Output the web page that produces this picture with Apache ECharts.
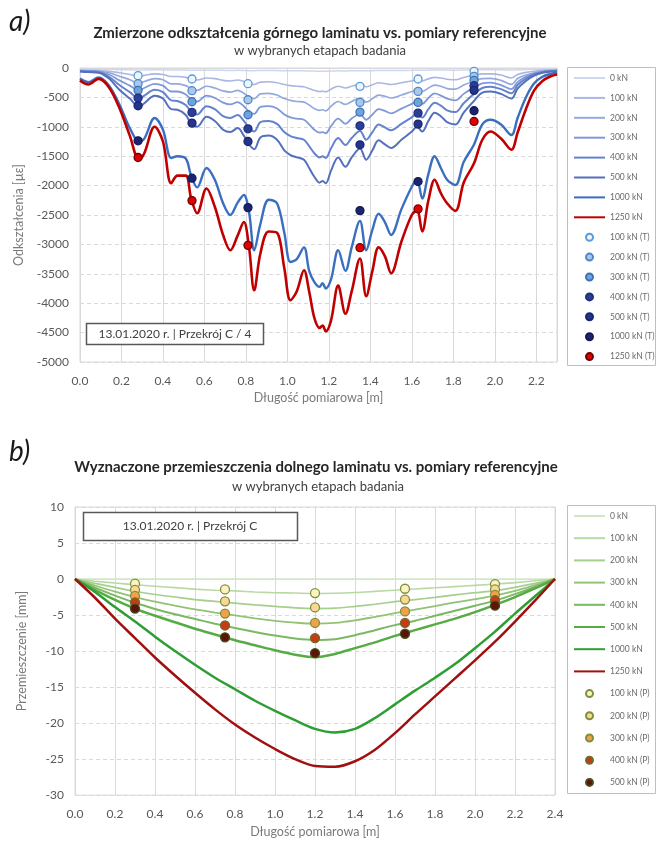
<!DOCTYPE html>
<html>
<head>
<meta charset="utf-8">
<script src="https://cdn.jsdelivr.net/npm/echarts@6/dist/echarts.min.js"></script>
<style>
  html, body { margin: 0; padding: 0; background: #ffffff; }
  #chartA { width: 657px; height: 430px; }
  #chartB { width: 657px; height: 413px; }
</style>
</head>
<body>
<div id="chartA"></div>
<div id="chartB"></div>
<script>
// ---------- a) strains of the upper laminate ----------
const strainX = [
  0.00, 0.04, 0.09, 0.14, 0.19, 0.24, 0.285, 0.31, 0.36, 0.40, 0.44,
  0.47, 0.51, 0.535, 0.565, 0.61, 0.65, 0.69, 0.725, 0.76, 0.79, 0.815,
  0.84, 0.87, 0.91, 0.95, 0.985, 1.015, 1.045, 1.08, 1.105, 1.13, 1.155,
  1.17, 1.185, 1.21, 1.245, 1.28, 1.31, 1.35, 1.38, 1.41, 1.44, 1.47,
  1.50, 1.55, 1.60, 1.625, 1.65, 1.68, 1.71, 1.74, 1.77, 1.81, 1.85,
  1.90, 1.94, 1.98, 2.03, 2.08, 2.11, 2.15, 2.19, 2.23, 2.27, 2.30
];
const strain0 = [
  -20, -22, -25, -25, -28, -30, -35, -32, -30, -30, -35,
  -35, -35, -40, -40, -38, -38, -40, -42, -40, -42, -45,
  -45, -42, -42, -44, -46, -48, -48, -48, -50, -52, -55,
  -54, -55, -52, -48, -50, -48, -45, -48, -45, -42, -43,
  -44, -42, -40, -38, -40, -36, -34, -35, -36, -37, -34,
  -30, -28, -28, -30, -35, -30, -26, -24, -22, -20, -20
];
const strain100 = [
  -40, -42, -45, -55, -80, -110, -140, -125, -100, -110, -145,
  -145, -160, -190, -205, -170, -180, -210, -220, -205, -230, -265,
  -280, -240, -235, -250, -280, -300, -310, -320, -350, -380, -400,
  -395, -405, -360, -310, -340, -310, -280, -320, -285, -250, -265,
  -280, -250, -220, -205, -220, -185, -160, -170, -190, -200, -160,
  -120, -100, -100, -120, -170, -110, -75, -55, -40, -35, -30
];
const strain200 = [
  -45, -50, -55, -80, -140, -200, -260, -230, -180, -200, -270,
  -270, -300, -350, -380, -310, -340, -390, -410, -380, -430, -490,
  -520, -440, -430, -460, -520, -550, -570, -580, -630, -690, -720,
  -710, -730, -650, -570, -620, -570, -510, -580, -520, -460, -480,
  -510, -460, -400, -380, -400, -340, -290, -310, -350, -360, -290,
  -220, -180, -175, -210, -280, -180, -120, -80, -55, -45, -40
];
const strain300 = [
  -50, -55, -60, -110, -210, -300, -380, -340, -270, -300, -400,
  -400, -450, -530, -570, -470, -510, -590, -620, -580, -650, -740,
  -780, -660, -650, -690, -790, -840, -860, -880, -960, -1050, -1100,
  -1090, -1110, -990, -860, -950, -860, -780, -880, -790, -700, -730,
  -770, -690, -610, -570, -610, -510, -430, -470, -520, -550, -440,
  -330, -260, -250, -290, -360, -240, -150, -95, -65, -50, -45
];
const strain400 = [
  -55, -60, -70, -150, -290, -410, -520, -470, -370, -410, -550,
  -560, -630, -740, -790, -650, -700, -820, -850, -800, -900, -1020,
  -1080, -920, -900, -950, -1090, -1160, -1190, -1220, -1330, -1450, -1520,
  -1500, -1530, -1370, -1190, -1310, -1190, -1070, -1220, -1090, -960, -1010,
  -1060, -950, -840, -780, -840, -700, -590, -640, -720, -750, -600,
  -440, -340, -320, -360, -430, -290, -180, -110, -70, -55, -50
];
const strain500 = [
  -60, -70, -80, -180, -370, -520, -660, -600, -470, -520, -700,
  -710, -800, -940, -1000, -830, -900, -1050, -1090, -1020, -1150, -1300,
  -1380, -1180, -1150, -1220, -1400, -1480, -1520, -1560, -1700, -1850, -1950,
  -1920, -1960, -1750, -1520, -1680, -1520, -1370, -1560, -1400, -1230, -1300,
  -1360, -1220, -1080, -1000, -1080, -900, -760, -820, -920, -960, -760,
  -560, -420, -400, -440, -520, -350, -220, -130, -80, -60, -55
];
const strain1000 = [
  -180, -240, -160, -300, -620, -1020, -1250, -1200, -850, -1050, -1530,
  -1500, -1540, -1820, -2030, -1700, -1900, -2300, -2500, -2290, -2160, -2450,
  -3100, -2650, -2240, -2300, -2800, -3300, -3250, -3050, -3450, -3640, -3720,
  -3660, -3750, -3600, -3100, -3450, -3050, -2600, -3100, -2750, -2480, -2620,
  -2840, -2400, -2020, -1900, -2220, -1800, -1500, -1700, -1900, -1990, -1600,
  -1300, -960, -880, -960, -1140, -850, -500, -260, -150, -100, -80
];
const strain1250 = [
  -210, -280, -185, -330, -680, -1150, -1560, -1450, -1000, -1250, -1960,
  -1830, -1830, -2200, -2470, -2050, -2360, -2840, -3100, -2850, -2620, -3050,
  -3780, -3150, -2780, -2800, -3400, -3950, -3800, -3440, -3800, -4250, -4420,
  -4380, -4480, -4300, -3700, -4180, -3800, -3240, -3880, -3450, -3050, -3200,
  -3490, -2950, -2500, -2420, -2780, -2250, -1900, -2130, -2300, -2430, -1950,
  -1620, -1220, -1080, -1200, -1390, -1100, -700, -380, -220, -140, -110
];

// reference strain gauges (T)
const gaugeX = [0.28, 0.54, 0.81, 1.35, 1.63, 1.90];
const gauge100 = [-130, -187, -267, -312, -187, -57];
const gauge200 = [-267, -386, -540, -585, -398, -142];
const gauge300 = [-380, -574, -795, -750, -585, -210];
const gauge400 = [-511, -755, -1034, -983, -767, -301];
const gauge500 = [-642, -937, -1250, -1306, -954, -380];
const gauge1000 = [-1238, -1874, -2374, -2425, -1931, -727];
const gauge1250 = [-1522, -2255, -3016, -3056, -2397, -909];

// ---------- b) displacements of the lower laminate ----------
const dispX = [0.0, 0.1, 0.2, 0.3, 0.4, 0.5, 0.6, 0.7, 0.8, 0.9, 1.0, 1.1, 1.2,
               1.3, 1.4, 1.5, 1.6, 1.7, 1.8, 1.9, 2.0, 2.1, 2.2, 2.3, 2.4];
const disp0 = [0, 0, 0, 0, 0, 0, 0, 0, 0, 0, 0, 0, 0, 0, 0, 0, 0, 0, 0, 0, 0, 0, 0, 0, 0];
const disp100 = [0, -0.3, -0.55, -0.8, -1.0, -1.2, -1.4, -1.55, -1.65, -1.8, -1.9, -1.95, -2.0,
                 -1.98, -1.88, -1.72, -1.55, -1.38, -1.22, -1.05, -0.88, -0.7, -0.5, -0.25, 0];
const disp200 = [0, -0.6, -1.15, -1.7, -2.15, -2.5, -2.85, -3.1, -3.35, -3.6, -3.8, -4.0, -4.1,
                 -4.05, -3.8, -3.5, -3.15, -2.85, -2.55, -2.2, -1.9, -1.6, -1.15, -0.6, 0];
const disp300 = [0, -0.9, -1.75, -2.5, -3.15, -3.7, -4.2, -4.65, -5.05, -5.45, -5.8, -6.05, -6.2,
                 -6.1, -5.75, -5.25, -4.75, -4.25, -3.75, -3.25, -2.8, -2.3, -1.65, -0.85, 0];
const disp400 = [0, -1.2, -2.3, -3.3, -4.15, -4.9, -5.55, -6.2, -6.8, -7.35, -7.85, -8.25, -8.45,
                 -8.35, -7.8, -7.1, -6.4, -5.8, -5.1, -4.4, -3.7, -3.0, -2.1, -1.1, 0];
const disp500 = [0, -1.5, -2.9, -4.1, -5.1, -6.0, -6.9, -7.7, -8.5, -9.2, -9.9, -10.5, -10.85,
                 -10.4, -9.6, -8.8, -7.9, -7.1, -6.3, -5.5, -4.6, -3.6, -2.5, -1.3, 0];
const disp1000 = [0, -1.8, -3.9, -5.9, -8.0, -10.0, -11.9, -13.7, -15.3, -16.9, -18.3, -19.6, -20.8,
                  -21.3, -20.8, -19.3, -17.4, -15.5, -13.7, -11.8, -9.6, -7.3, -4.8, -2.4, 0];
const disp1250 = [0, -2.6, -5.5, -8.2, -10.9, -13.4, -15.8, -18.1, -20.2, -22.0, -23.6, -25.0, -25.95,
                  -26.05, -25.3, -23.7, -21.4, -18.8, -16.3, -13.8, -11.3, -8.7, -5.9, -3.0, 0];

// reference displacement points (P)
const pointX = [0.3, 0.75, 1.2, 1.65, 2.1];
const point100 = [-0.65, -1.45, -1.95, -1.35, -0.7];
const point200 = [-1.5, -3.1, -3.95, -2.85, -1.45];
const point300 = [-2.35, -4.8, -6.1, -4.5, -2.2];
const point400 = [-3.25, -6.45, -8.2, -6.1, -2.95];
const point500 = [-4.1, -8.1, -10.3, -7.6, -3.7];

const lineNames = ['0 kN', '100 kN', '200 kN', '300 kN', '400 kN', '500 kN', '1000 kN', '1250 kN'];

const FONT = 'Lato, "Liberation Sans", sans-serif';
const pairs = (xs, ys) => xs.map((x, i) => [x, ys[i]]);

function lineSeries(name, xs, ys, color, width, smooth) {
  return {
    name: name, type: 'line', data: pairs(xs, ys),
    symbol: 'none', showSymbol: false, smooth: smooth,
    lineStyle: { color: color, width: width }, itemStyle: { color: color },
    emphasis: { disabled: true }, silent: true, z: 2
  };
}
function dotSeries(name, xs, ys, fill, border, size) {
  return {
    name: name, type: 'scatter', data: pairs(xs, ys),
    symbol: 'circle', symbolSize: size,
    itemStyle: { color: fill, borderColor: border, borderWidth: 1.3, opacity: 1 },
    emphasis: { disabled: true }, silent: true, z: 4
  };
}
function axisCommon() {
  return {
    axisLine: { show: true, lineStyle: { color: '#d9d9d9' } },
    axisTick: { show: false },
    nameTextStyle: { color: '#7a7a7a', fontSize: 12.5, fontFamily: FONT }
  };
}
// legend entries: plain line icons for the curves, circles for the reference points
function legendData(dotNames) {
  return lineNames.map(n => ({ name: n, itemStyle: { opacity: 0 } }))
    .concat(dotNames.map(n => ({ name: n, icon: 'circle' })));
}
function legendBlock(top, gap, dotNames) {
  return {
    orient: 'vertical', left: 573, top: top, padding: 0,
    itemWidth: 31, itemHeight: 7, itemGap: gap,
    textStyle: { color: '#6b6b6b', fontSize: 8.5, fontFamily: FONT, lineHeight: 10 },
    selectedMode: false,
    data: legendData(dotNames)
  };
}
const xLabel = { color: '#595959', fontSize: 12, fontFamily: FONT, margin: 13,
                 formatter: v => v.toFixed(1) };
const yLabel = { color: '#595959', fontSize: 12, fontFamily: FONT, margin: 11,
                 formatter: v => String(v) };

// ---------- chart a) ----------
const chartA = echarts.init(document.getElementById('chartA'), null, { renderer: 'canvas' });
chartA.setOption({
  animation: false,
  backgroundColor: '#ffffff',
  grid: { left: 80, right: 100, top: 68, bottom: 68, show: true, borderColor: '#d9d9d9', borderWidth: 1 },
  xAxis: Object.assign(axisCommon(), {
    type: 'value', min: 0, max: 2.3, interval: 0.2,
    axisLabel: Object.assign({ showMaxLabel: false }, xLabel),
    name: 'Długość pomiarowa [m]', nameLocation: 'middle', nameGap: 28,
    splitLine: { show: true, lineStyle: { color: '#d9d9d9', width: 1 } }
  }),
  yAxis: Object.assign(axisCommon(), {
    type: 'value', min: -5000, max: 0, interval: 500,
    axisLabel: yLabel,
    name: 'Odkształcenia [µε]', nameLocation: 'middle', nameGap: 52,
    splitLine: { show: true, lineStyle: { color: '#d9d9d9', width: 1, type: [4, 3] } }
  }),
  legend: legendBlock(73, 9.9,
    ['100 kN (T)', '200 kN (T)', '300 kN (T)', '400 kN (T)', '500 kN (T)', '1000 kN (T)', '1250 kN (T)']),
  series: [
    lineSeries('0 kN', strainX, strain0, '#cfd6f0', 1.5, 0.35),
    lineSeries('100 kN', strainX, strain100, '#aab7e2', 1.6, 0.35),
    lineSeries('200 kN', strainX, strain200, '#95a9de', 1.7, 0.35),
    lineSeries('300 kN', strainX, strain300, '#7f98d8', 1.8, 0.35),
    lineSeries('400 kN', strainX, strain400, '#6483cd', 2, 0.35),
    lineSeries('500 kN', strainX, strain500, '#5470bd', 2, 0.35),
    lineSeries('1000 kN', strainX, strain1000, '#3a6fc0', 2.4, 0.35),
    lineSeries('1250 kN', strainX, strain1250, '#c00000', 2.6, 0.35),
    dotSeries('100 kN (T)', gaugeX, gauge100, '#eef5fc', '#5b9bd5', 8),
    dotSeries('200 kN (T)', gaugeX, gauge200, '#a9c8ea', '#4f87c7', 8),
    dotSeries('300 kN (T)', gaugeX, gauge300, '#6fa3dc', '#3e72b8', 8),
    dotSeries('400 kN (T)', gaugeX, gauge400, '#2c3f98', '#1f2f7a', 8),
    dotSeries('500 kN (T)', gaugeX, gauge500, '#25358e', '#1a2670', 8),
    dotSeries('1000 kN (T)', gaugeX, gauge1000, '#1c2472', '#141a55', 8),
    dotSeries('1250 kN (T)', gaugeX, gauge1250, '#e00000', '#700000', 8)
  ],
  graphic: [
    { type: 'text', left: 9, top: 8, z: 10,
      style: { text: 'a)', font: 'italic 28px ' + FONT, fill: '#1a1a1a' } },
    { type: 'text', x: 320, y: 33, z: 10,
      style: { text: 'Zmierzone odkształcenia górnego laminatu vs. pomiary referencyjne',
               font: 'bold 15px ' + FONT, fill: '#262626', align: 'center', verticalAlign: 'middle' } },
    { type: 'text', x: 320, y: 51, z: 10,
      style: { text: 'w wybranych etapach badania',
               font: '13px ' + FONT, fill: '#404040', align: 'center', verticalAlign: 'middle' } },
    { type: 'rect', shape: { x: 567.5, y: 67.5, width: 88, height: 298 }, z: 1,
      style: { fill: 'none', stroke: '#bfbfbf', lineWidth: 1 } },
    { type: 'rect', shape: { x: 86.5, y: 323.5, width: 177, height: 21 }, z: 10,
      style: { fill: '#ffffff', stroke: '#595959', lineWidth: 1.5 } },
    { type: 'text', x: 175, y: 334, z: 11,
      style: { text: '13.01.2020 r. | Przekrój C / 4', font: '12px ' + FONT, fill: '#404040',
               align: 'center', verticalAlign: 'middle' } }
  ]
});

// ---------- chart b) ----------
const chartB = echarts.init(document.getElementById('chartB'), null, { renderer: 'canvas' });
chartB.setOption({
  animation: false,
  backgroundColor: '#ffffff',
  grid: { left: 75, right: 102, top: 77, bottom: 43, show: true, borderColor: '#d9d9d9', borderWidth: 1 },
  xAxis: Object.assign(axisCommon(), {
    type: 'value', min: 0, max: 2.4, interval: 0.2,
    axisLabel: xLabel,
    name: 'Długość pomiarowa [m]', nameLocation: 'middle', nameGap: 29,
    splitLine: { show: true, lineStyle: { color: '#d9d9d9', width: 1 } }
  }),
  yAxis: Object.assign(axisCommon(), {
    type: 'value', min: -30, max: 10, interval: 5,
    axisLabel: yLabel,
    name: 'Przemieszczenie [mm]', nameLocation: 'middle', nameGap: 47,
    splitLine: { show: true, lineStyle: { color: '#d9d9d9', width: 1, type: [4, 3] } }
  }),
  legend: legendBlock(81, 12.2,
    ['100 kN (P)', '200 kN (P)', '300 kN (P)', '400 kN (P)', '500 kN (P)']),
  series: [
    lineSeries('0 kN', dispX, disp0, '#d3e7c6', 1.5, 0.3),
    lineSeries('100 kN', dispX, disp100, '#b9d9a2', 1.6, 0.3),
    lineSeries('200 kN', dispX, disp200, '#a6cf8c', 1.7, 0.3),
    lineSeries('300 kN', dispX, disp300, '#92c375', 1.8, 0.3),
    lineSeries('400 kN', dispX, disp400, '#7ab862', 2, 0.3),
    lineSeries('500 kN', dispX, disp500, '#56ab45', 2.5, 0.3),
    lineSeries('1000 kN', dispX, disp1000, '#2e9e34', 2.5, 0.3),
    lineSeries('1250 kN', dispX, disp1250, '#a01010', 2.5, 0.3),
    dotSeries('100 kN (P)', pointX, point100, '#fbf4c2', '#7f8f3a', 9),
    dotSeries('200 kN (P)', pointX, point200, '#f9d896', '#7f8f3a', 9),
    dotSeries('300 kN (P)', pointX, point300, '#f0a24a', '#7f8f3a', 9),
    dotSeries('400 kN (P)', pointX, point400, '#c63c16', '#6f6a2a', 9),
    dotSeries('500 kN (P)', pointX, point500, '#5a1606', '#4a4a20', 9)
  ],
  graphic: [
    { type: 'text', left: 9, top: 8, z: 10,
      style: { text: 'b)', font: 'italic 28px ' + FONT, fill: '#1a1a1a' } },
    { type: 'text', x: 316, y: 37, z: 10,
      style: { text: 'Wyznaczone przemieszczenia dolnego laminatu vs. pomiary referencyjne',
               font: 'bold 15px ' + FONT, fill: '#262626', align: 'center', verticalAlign: 'middle' } },
    { type: 'text', x: 318, y: 57, z: 10,
      style: { text: 'w wybranych etapach badania',
               font: '13px ' + FONT, fill: '#404040', align: 'center', verticalAlign: 'middle' } },
    { type: 'rect', shape: { x: 567.5, y: 75.5, width: 88, height: 288 }, z: 1,
      style: { fill: 'none', stroke: '#bfbfbf', lineWidth: 1 } },
    { type: 'rect', shape: { x: 83.5, y: 82.5, width: 214, height: 28 }, z: 10,
      style: { fill: '#ffffff', stroke: '#595959', lineWidth: 1.5 } },
    { type: 'text', x: 190, y: 96.5, z: 11,
      style: { text: '13.01.2020 r. | Przekrój C', font: '12px ' + FONT, fill: '#404040',
               align: 'center', verticalAlign: 'middle' } }
  ]
});
</script>
</body>
</html>
